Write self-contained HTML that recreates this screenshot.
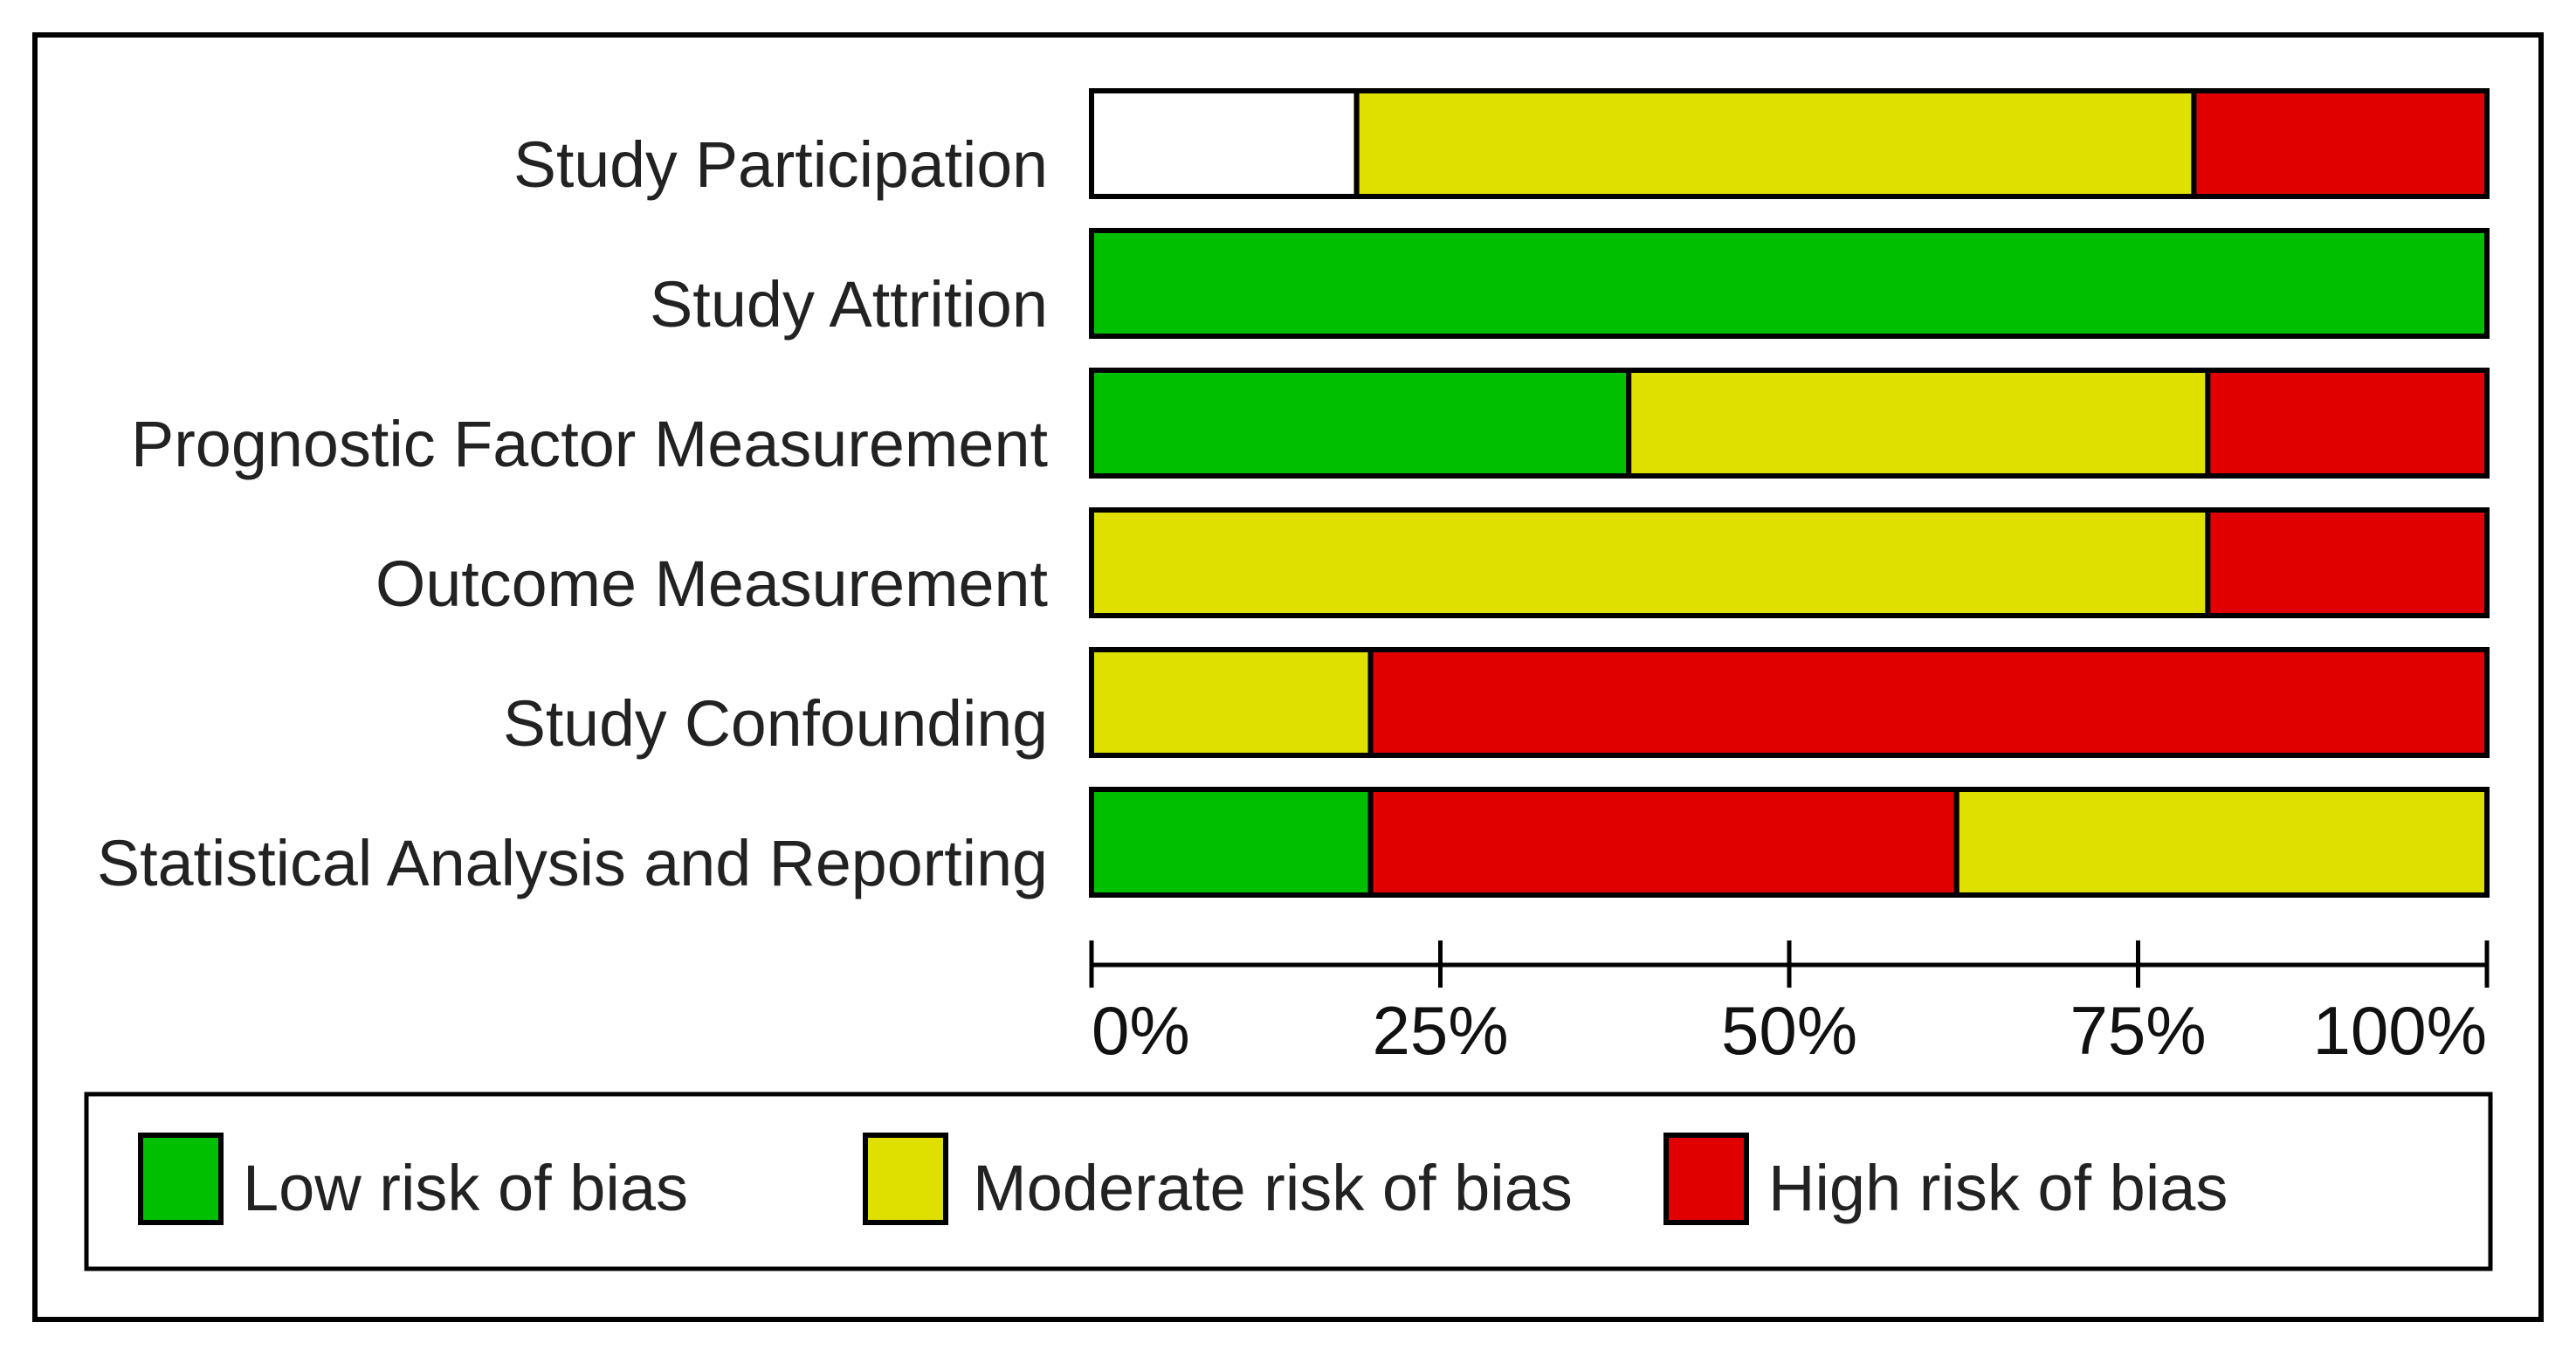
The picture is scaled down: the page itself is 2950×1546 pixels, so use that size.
<!DOCTYPE html>
<html><head><meta charset="utf-8"><style>
html,body{margin:0;padding:0;background:#fff;}
svg{display:block;font-family:"Liberation Sans",Arial,sans-serif;}
</style></head><body>
<svg id="chart" width="2950" height="1546" viewBox="0 0 2950 1546">
<rect x="40" y="40" width="2870" height="1471" fill="#fff" stroke="#000" stroke-width="6"/>
<g id="bars"></g>
<g id="labels"></g>
<g id="axis"></g>
<g>
<rect x="99" y="1253" width="2753" height="200" fill="#fff" stroke="#000" stroke-width="5"/>
<rect x="161" y="1300" width="92" height="100" fill="#00bf00" stroke="#000" stroke-width="6"/>
<text x="278" y="1386" font-size="74" fill="#222">Low risk of bias</text>
<rect x="991" y="1300" width="92" height="100" fill="#e0e000" stroke="#000" stroke-width="6"/>
<text x="1114" y="1386" font-size="74" fill="#222">Moderate risk of bias</text>
<rect x="1908" y="1300" width="92" height="100" fill="#e00000" stroke="#000" stroke-width="6"/>
<text x="2025" y="1386" font-size="74" fill="#222">High risk of bias</text>
</g>
</svg>
<script>
const categories = ["Study Participation","Study Attrition","Prognostic Factor Measurement","Outcome Measurement","Study Confounding","Statistical Analysis and Reporting"];
// segments per row in order of drawing: [value %, type]
const seg1Values = [19, 100, 38.5, 80, 20, 20];
const seg1Types = ["none","low","low","moderate","moderate","low"];
const seg2Values = [60, 0, 41.5, 20, 80, 42];
const seg2Types = ["moderate","none","moderate","high","high","high"];
const seg3Values = [21, 0, 20, 0, 0, 38];
const seg3Types = ["high","none","high","none","none","moderate"];
const tickValues = [0, 25, 50, 75, 100];
const tickLabels = ["0%","25%","50%","75%","100%"];
const labelWidths = [612, 456, 1050, 770, 624, 1089];

const NS="http://www.w3.org/2000/svg";
const X0=1250, X1=2848;
const x = v => X0 + (X1-X0)*v/100;
const ROW0=104, PITCH=160, BH=121;
const y = i => ROW0 + i*PITCH;
const colors={none:"#ffffff",low:"#00bf00",moderate:"#e0e000",high:"#e00000"};
const bars=document.getElementById('bars');
const labels=document.getElementById('labels');
const axis=document.getElementById('axis');
function mk(tag,attrs){const e=document.createElementNS(NS,tag);for(const k in attrs)e.setAttribute(k,attrs[k]);return e;}
categories.forEach((c,i)=>{
  let acc=0;
  const segs=[[seg1Values[i],seg1Types[i]],[seg2Values[i],seg2Types[i]],[seg3Values[i],seg3Types[i]]];
  segs.forEach((s,j)=>{
    if(s[0]<=0) return;
    const r=mk('rect',{x:x(acc),y:y(i),width:x(acc+s[0])-x(acc),height:BH,fill:colors[s[1]],stroke:"#000","stroke-width":6});
    
    
    bars.appendChild(r);
    acc+=s[0];
  });
  const t=mk('text',{x:1200,y:y(i)+110,"text-anchor":"end","font-size":74,fill:"#222",textLength:labelWidths[i],lengthAdjust:"spacingAndGlyphs"});
  t.textContent=c;
  
  
  labels.appendChild(t);
});
const line=mk('line',{x1:X0,x2:X1,y1:1105,y2:1105,stroke:"#000","stroke-width":5});


axis.appendChild(line);
tickValues.forEach((v,i)=>{
  const tk=mk('line',{x1:x(v),x2:x(v),y1:1077,y2:1131,stroke:"#000","stroke-width":5});
  
  
  axis.appendChild(tk);
  const anchor = i===0?"start":(i===tickValues.length-1?"end":"middle");
  const tl=mk('text',{x:x(v),y:1207,"text-anchor":anchor,"font-size":78,fill:"#111"});
  tl.textContent=tickLabels[i];
  
  
  axis.appendChild(tl);
});
</script>
</body></html>
